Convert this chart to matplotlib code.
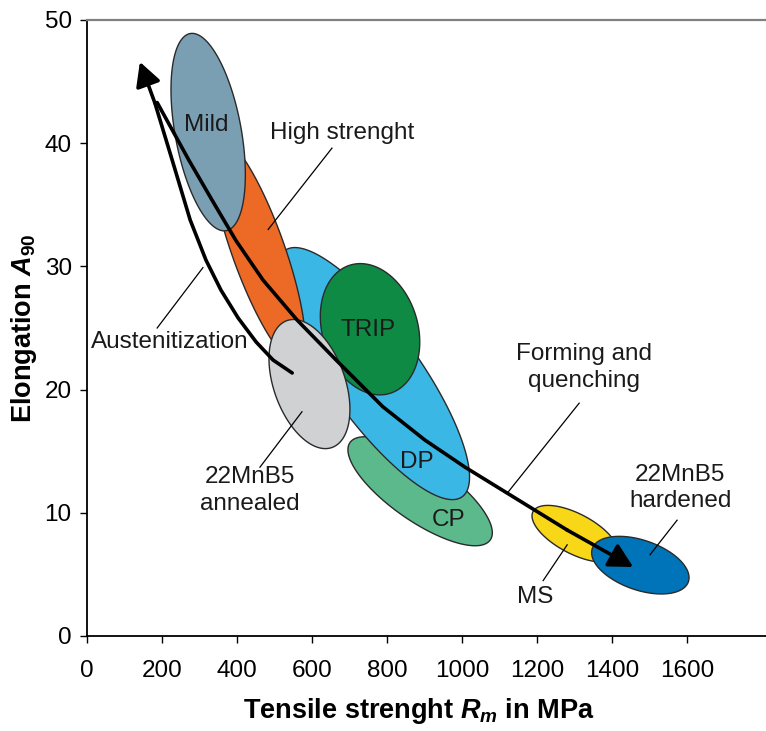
import numpy as np
import matplotlib
matplotlib.use("Agg")
import matplotlib.pyplot as plt

plt.rcParams["font.family"] = ["Liberation Sans", "DejaVu Sans"]
plt.rcParams["mathtext.fontset"] = "custom"
plt.rcParams["mathtext.it"] = "Liberation Sans:italic:bold"
plt.rcParams["mathtext.rm"] = "Liberation Sans:bold"

# steel grade regions: major-axis end points (Rm MPa, A90 %) and minor/major ratio, in draw order
region_names = ["CP", "DP", "High strenght", "TRIP", "22MnB5 annealed", "Mild", "MS", "22MnB5 hardened"]
rm_start = [701, 528, 349, 701, 533, 275, 1189, 1347]
a_start = [15.7, 31.3, 40.5, 30.1, 25.6, 48.9, 10.1, 7.1]
rm_end = [1075, 1000, 563, 808, 653, 371, 1413, 1603]
a_end = [7.8, 11.3, 22.2, 19.7, 15.3, 32.9, 6.5, 4.4]
ratio = [0.35, 0.30, 0.22, 0.71, 0.53, 0.33, 0.42, 0.49]

# process paths
aus_rm = [547, 496, 451, 403, 357, 317, 275, 227, 181]
aus_a = [21.35, 22.4, 23.86, 25.81, 28.08, 30.52, 33.77, 38.64, 43.26]
aus_tip = (141, 46.6)
form_rm = [187, 272, 333, 397, 469, 560, 664, 789, 901, 1008, 1120, 1280]
form_a = [43.3, 38.6, 35.4, 32.1, 28.9, 25.65, 22.4, 18.6, 15.9, 13.7, 11.6, 8.6]
form_tip = (1456, 5.6)

x_ticks = [0, 200, 400, 600, 800, 1000, 1200, 1400, 1600]
y_ticks = [0, 10, 20, 30, 40, 50]

COLORS = {"CP": "#5cb98b", "DP": "#3bb7e6", "High strenght": "#ec6a25", "TRIP": "#0f8a45",
          "22MnB5 annealed": "#cfd1d3", "Mild": "#7b9fb2", "MS": "#f7d717",
          "22MnB5 hardened": "#0074b8"}

# labels: (text, Rm, A, leader from, leader to)
labels = [
    ("Mild", 317, 41.5, None, None),
    ("High strenght", 680, 40.8, (653, 39.6), (483, 33.0)),
    ("Austenitization", 221, 23.9, (187, 25.0), (309, 29.9)),
    ("TRIP", 749, 24.8, None, None),
    ("Forming and\nquenching", 1325, 21.8, (1312, 18.9), (1123, 11.7)),
    ("DP", 880, 14.1, None, None),
    ("CP", 963, 9.4, None, None),
    ("22MnB5\nhardened", 1581, 12.0, (1573, 9.4), (1501, 6.6)),
    ("MS", 1195, 3.2, (1216, 4.5), (1280, 7.4)),
    ("22MnB5\nannealed", 435, 11.8, (461, 13.7), (573, 18.2)),
]


def blob(ax, p1, p2, r, color):
    # ellipse drawn in screen space so it stays a true rotated ellipse
    d1, d2 = ax.transData.transform([p1, p2])
    c = (d1 + d2) / 2
    A = (d2 - d1) / 2
    B = np.array([-A[1], A[0]]) * r
    t = np.linspace(0, 2 * np.pi, 240)
    pts = c + np.outer(np.cos(t), A) + np.outer(np.sin(t), B)
    xy = ax.transData.inverted().transform(pts)
    ax.fill(xy[:, 0], xy[:, 1], facecolor=color, edgecolor="#2a2a2a", lw=1.0)


fig = plt.figure(figsize=(7.66, 7.31), dpi=100)
ax = fig.add_axes([87 / 766, 95 / 731, 679 / 766, 616 / 731])
ax.set_xlim(0, 1810)
ax.set_ylim(0, 50)

for i, n in enumerate(region_names):
    blob(ax, (rm_start[i], a_start[i]), (rm_end[i], a_end[i]), ratio[i], COLORS[n])

head = dict(arrowstyle="-|>,head_length=0.6,head_width=0.32", mutation_scale=24,
            color="black", lw=2.6, shrinkA=0, shrinkB=0)
ax.plot(aus_rm, aus_a, color="black", lw=2.6, solid_capstyle="round", solid_joinstyle="round")
ax.annotate("", xy=aus_tip, xytext=(aus_rm[-1], aus_a[-1]), arrowprops=head)
ax.plot(form_rm, form_a, color="black", lw=2.6, solid_capstyle="round", solid_joinstyle="round")
ax.annotate("", xy=form_tip, xytext=(form_rm[-1], form_a[-1]), arrowprops=head)

for txt, x, y, l0, l1 in labels:
    ax.text(x, y, txt, ha="center", va="center", fontsize=17.5, color="#1a1a1a",
            linespacing=1.25)
    if l0:
        ax.plot([l0[0], l1[0]], [l0[1], l1[1]], color="black", lw=0.9)

ax.set_xticks(x_ticks)
ax.set_yticks(y_ticks)
ax.tick_params(axis="both", labelsize=17.5, direction="out", length=5, width=1, color="black")
ax.tick_params(axis="x", pad=12)
ax.tick_params(axis="y", pad=6)
ax.spines["right"].set_visible(False)
ax.spines["top"].set_color("#808080")
ax.spines["top"].set_linewidth(1.6)
for s in ("left", "bottom"):
    ax.spines[s].set_linewidth(1.3)

ax.set_xlabel(r"Tensile strenght $\mathit{R_m}$ in MPa", fontsize=19.5, fontweight="bold")
ax.set_ylabel(r"Elongation $\mathit{A_{90}}$", fontsize=19.5, fontweight="bold")
ax.xaxis.label.set_va("center")
ax.yaxis.label.set_va("center")
ax.xaxis.set_label_coords(332 / 679, -75 / 616)
ax.yaxis.set_label_coords(-63 / 679, 308 / 616)

fig.savefig("out.png", dpi=100)
